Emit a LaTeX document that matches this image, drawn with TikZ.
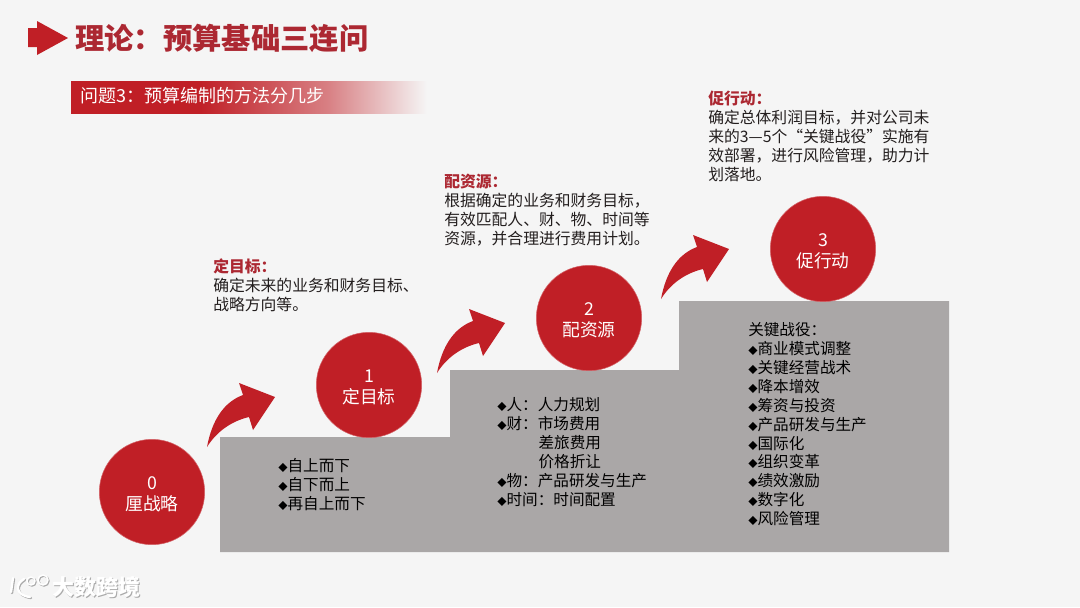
\documentclass[tikz,border=0pt]{standalone}
\usepackage{fontspec}
\setmainfont{Noto Sans CJK SC}
\usetikzlibrary{positioning}
\definecolor{bgpage}{RGB}{245,245,245}
\definecolor{budred}{RGB}{192,31,38}
\definecolor{ttlred}{RGB}{172,40,50}
\definecolor{stepgray}{RGB}{170,167,167}
\definecolor{inktext}{RGB}{35,30,30}
\definecolor{wmgray}{RGB}{170,170,170}
\pgfdeclarehorizontalshading{subbarfade}{100bp}{color(0bp)=(budred);color(25bp)=(budred);color(43bp)=(budred);color(61bp)=(budred!55!bgpage);color(75bp)=(bgpage);color(100bp)=(bgpage)}
\newcommand{\dia}{{\fontsize{7pt}{7pt}\selectfont ◆}}
\newcommand{\balltxt}[2]{\rule{0pt}{13pt}#1\\#2}
\tikzset{
  ball/.style={circle, fill=budred, draw=budred!70!white, line width=0.4pt, minimum size=79pt,
               inner sep=0pt, align=center, text=white, font=\fontsize{13.3pt}{16pt}\selectfont},
  note/.style={anchor=north west, inner sep=0pt, align=left, text=inktext,
               font=\fontsize{11.85pt}{14.25pt}\selectfont},
  lst/.style={note, text=black, font=\fontsize{11.7pt}{14.2pt}\selectfont},
  curl/.style={fill=budred},
}
\newcommand{\curlarr}[1]{%
  \fill[curl, shift={(#1)}] (207,447) .. controls (212,420) and (224,402) .. (243,395)
    -- (239,383) -- (275,397) -- (253,430) -- (249,417)
    .. controls (232,421) and (217,431) .. (207,447) -- cycle;}

\begin{document}
\begin{tikzpicture}[x=0.75pt, y=-0.75pt]
  \fill[bgpage] (0,0) rectangle (1080,607);
  \useasboundingbox (0,0) rectangle (1080,607);
  % header
  \fill[budred] (28,28) -- (37,28) -- (37,21) -- (68,38) -- (37,55) -- (37,47) -- (28,47) -- cycle;
  \node[anchor=west, inner sep=0pt, text=ttlred, font=\fontsize{22pt}{26pt}\selectfont\bfseries] (ttl) at (75,38) {理论：预算基础三连问};
  \shade[shading=subbarfade] (71,81) rectangle (427,113);
  \node[anchor=west, inner sep=0pt, text=white, font=\fontsize{13.5pt}{16pt}\selectfont] (sub) at (80,96) {问题3：预算编制的方法分几步};
  % stairs
  \fill[stepgray] (220,437) -- (450,437) -- (450,370) -- (679,370) -- (679,301) -- (949,301) -- (949,552) -- (220,552) -- cycle;
  % arrows
  \curlarr{0,0}
  \curlarr{230,-74}
  \curlarr{454,-148}
  % balls
  \node[ball] (b0) at (152,492) {\balltxt{0}{厘战略}};
  \node[ball] (b1) at (369,385) {\balltxt{1}{定目标}};
  \node[ball] (b2) at (589,318) {\balltxt{2}{配资源}};
  \node[ball] (b3) at (823,249) {\balltxt{3}{促行动}};
  % notes
  \node[note] (n1) at (213,259) {{\color{ttlred}\bfseries 定目标：}\\确定未来的业务和财务目标、\\战略方向等。};
  \node[note] (n2) at (444,174) {{\color{ttlred}\bfseries 配资源：}\\根据确定的业务和财务目标，\\有效匹配人、财、物、时间等\\资源，并合理进行费用计划。};
  \node[note] (n3) at (708,91) {{\color{ttlred}\bfseries 促行动：}\\确定总体利润目标，并对公司未\\来的3—5个“关键战役”实施有\\效部署，进行风险管理，助力计\\划落地。};
  % lists
  \node[lst] (l1) at (278,458) {\dia 自上而下\\\dia 自下而上\\\dia 再自上而下};
  \node[lst] (l2) at (497,397) {\dia 人：人力规划\\\dia 财：市场费用\\\hspace*{31pt}差旅费用\\\hspace*{31pt}价格折让\\\dia 物：产品研发与生产\\\dia 时间：时间配置};
  \node[lst] (l3) at (748,322) {关键战役：\\\dia 商业模式调整\\\dia 关键经营战术\\\dia 降本增效\\\dia 筹资与投资\\\dia 产品研发与生产\\\dia 国际化\\\dia 组织变革\\\dia 绩效激励\\\dia 数字化\\\dia 风险管理};
  % watermark
  \foreach \wc/\ws in {wmgray/1, white/0}{
    \begin{scope}[shift={(\ws,\ws)}, draw=\wc, line cap=round]
      \draw[line width=1.8pt] (13,578) -- (11,592);
      \draw[line width=1.8pt] (24,579) .. controls (15,584) and (15,595) .. (30,597);
      \draw[line width=1.1pt] (31,581) circle (4) (43,580) circle (5);
      \node[anchor=west, inner sep=0pt, text=\wc, font=\fontsize{16.5pt}{18pt}\selectfont\bfseries] (wm\ws) at (52,587) {大数跨境};
    \end{scope}}
\end{tikzpicture}
\end{document}
